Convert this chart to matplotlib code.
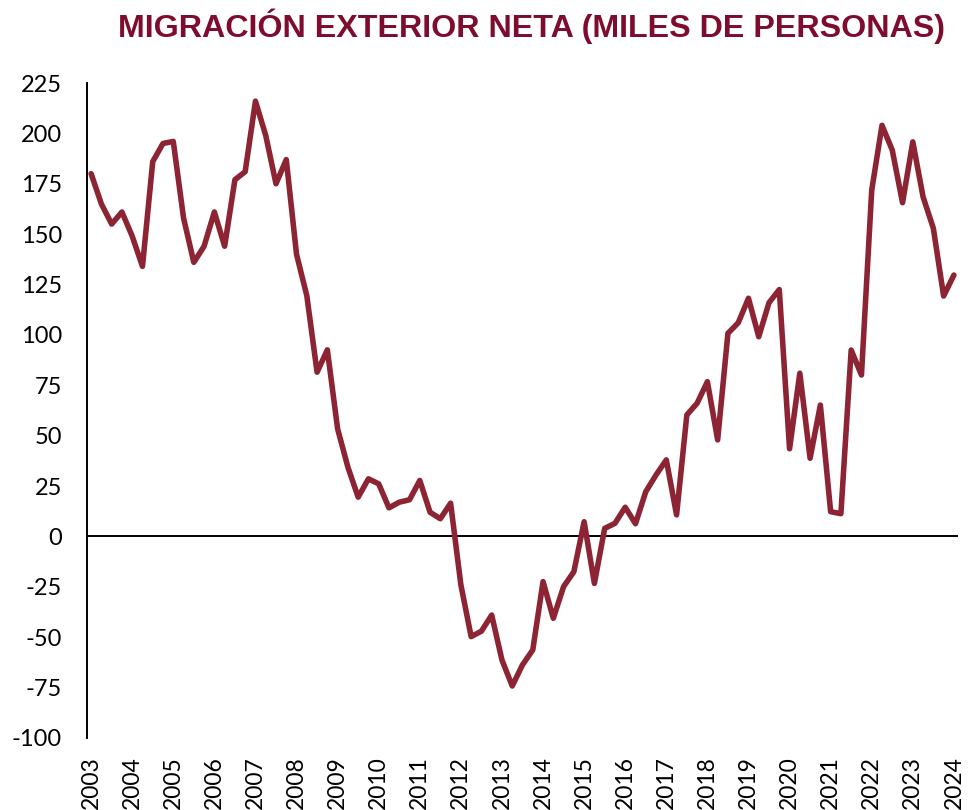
import matplotlib
matplotlib.use("Agg")
import matplotlib.pyplot as plt
import numpy as np

title = "MIGRACIÓN EXTERIOR NETA (MILES DE PERSONAS)"
years = list(range(2003, 2025))
# Quarterly values 2003Q1 .. 2024Q1
values = [
    180, 165, 155, 161,
    149, 134, 186, 195,
    196, 158, 136, 144,
    161, 144, 177, 181,
    216, 199, 175, 187,
    140, 119.5, 81.5, 92.6,
    53.4, 34.4, 19.5, 28.6,
    26.1, 14.2, 17, 18.2,
    27.8, 12, 8.8, 16.5,
    -24, -49.7, -47, -39,
    -61.3, -74.2, -63.7, -56.3,
    -22.4, -40.6, -24.9, -17.5,
    7.3, -23.3, 4, 6.5,
    14.5, 6.3, 22.2, 30.5,
    38, 10.7, 60.3, 66.1,
    76.8, 47.9, 100.8, 106,
    118.2, 99.1, 116, 122.5,
    43.5, 81, 38.8, 65.2,
    12.3, 11.3, 92.5, 80.1,
    171.8, 204, 191.7, 165.6,
    195.8, 168.5, 152.9, 119.3,
    129.7,
]
yticks = list(range(-100, 226, 25))

fig = plt.figure(figsize=(9.69, 8.10), dpi=100)
ax = fig.add_axes([87/969, 1-738/810, (958-87)/969, (738-83)/810])

x = np.arange(len(values))
ax.plot(x, values, color="#8C2434", lw=4.0, solid_joinstyle="round", solid_capstyle="round")
ax.axhline(0, color="black", lw=1.4, zorder=1)

ax.set_xlim(-0.4, len(values) - 1 + 0.4)
ax.set_ylim(-100, 225)
ax.set_yticks(yticks)
ax.set_yticklabels([str(v) for v in yticks])
ax.set_xticks([4 * i for i in range(len(years))])
ax.set_xticklabels([str(y) for y in years], rotation=90, va="top", ha="center")

for s in ["top", "right", "bottom"]:
    ax.spines[s].set_visible(False)
ax.spines["left"].set_color("black")
ax.spines["left"].set_linewidth(1.4)

ax.tick_params(axis="y", length=0, pad=18, labelsize=17)
ax.tick_params(axis="x", length=0, pad=13, labelsize=16.5)
for lab in ax.get_xticklabels() + ax.get_yticklabels():
    lab.set_family("Lato")

fig.text(532/969, 1-26/810, title, ha="center", va="center",
         fontsize=23.2, fontweight="bold", color="#7E0C2E", family="Liberation Sans")

fig.savefig("out.png", dpi=100)
